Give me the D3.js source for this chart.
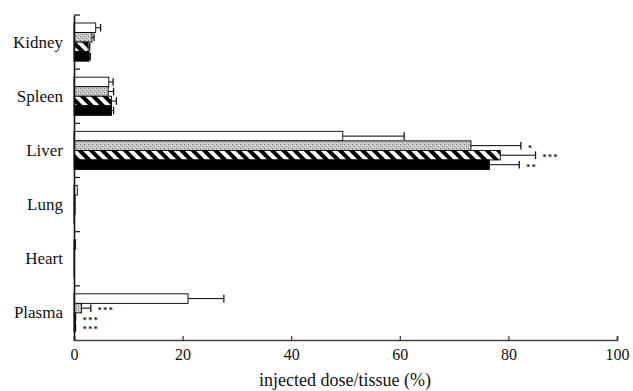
<!DOCTYPE html>
<html><head><meta charset="utf-8">
<script src="https://cdn.jsdelivr.net/npm/d3@7"></script>
<style>body{margin:0;background:#fff}svg{display:block}text{font-family:"Liberation Serif","Times New Roman",serif;fill:#111}</style>
</head><body><svg id="c" width="633" height="391"></svg>
<script>
const categories = ["Kidney","Spleen","Liver","Lung","Heart","Plasma"];
const seriesNames = ["white","gray","hatched","black"];
const whiteVals   = [4.0, 6.4, 49.5, 0.6, 0.3, 21.0];
const whiteErr    = [0.9, 0.8, 11.3, 0, 0, 6.6];
const grayVals    = [3.3, 6.3, 73.1, 0.2, 0.1, 1.4];
const grayErr     = [0.4, 1.0, 9.2, 0, 0, 1.7];
const hatchedVals = [2.6, 6.9, 78.5, 0.2, 0.1, 0.2];
const hatchedErr  = [0.3, 0.9, 6.5, 0, 0, 0.1];
const blackVals   = [2.8, 6.9, 76.5, 0.1, 0.1, 0.2];
const blackErr    = [0.2, 0.4, 5.5, 0, 0, 0.1];
const xTicks = [0,20,40,60,80,100];
const annotations = [
  {cat:"Liver", s:"gray", t:"*"},
  {cat:"Liver", s:"hatched", t:"***"},
  {cat:"Liver", s:"black", t:"**"},
  {cat:"Plasma", s:"gray", t:"***"},
  {cat:"Plasma", s:"hatched", t:"***"},
  {cat:"Plasma", s:"black", t:"***"}
];
const xTitle = "injected dose/tissue (%)";

const vals = {white:whiteVals, gray:grayVals, hatched:hatchedVals, black:blackVals};
const errs = {white:whiteErr, gray:grayErr, hatched:hatchedErr, black:blackErr};

const svg = d3.select("#c");
const defs = svg.append("defs");
const gp = defs.append("pattern").attr("id","gpat").attr("patternUnits","userSpaceOnUse").attr("width",4).attr("height",4);
gp.append("rect").attr("width",4).attr("height",4).attr("fill","#c4c4c4");
gp.append("rect").attr("x",0).attr("y",0).attr("width",1).attr("height",1).attr("fill","#7a7a7a");
gp.append("rect").attr("x",2).attr("y",2).attr("width",1).attr("height",1).attr("fill","#888");
gp.append("rect").attr("x",1).attr("y",3).attr("width",1).attr("height",1).attr("fill","#eee");
gp.append("rect").attr("x",3).attr("y",1).attr("width",1).attr("height",1).attr("fill","#eee");
const hp = defs.append("pattern").attr("id","hpat").attr("patternUnits","userSpaceOnUse").attr("width",8).attr("height",8).attr("patternTransform","rotate(-45)");
hp.append("rect").attr("width",8).attr("height",8).attr("fill","#000");
hp.append("rect").attr("x",0).attr("width",4).attr("height",8).attr("fill","#fff");

const fills = {white:"#fff", gray:"url(#gpat)", hatched:"url(#hpat)", black:"#000"};

const x = d3.scaleLinear().domain([0,100]).range([74,617]);
const y = d3.scaleBand().domain(categories).range([15,340]).padding(0);
const inner = d3.scaleBand().domain(seriesNames).range([8, y.bandwidth()-8]).padding(0);

const data = [];
categories.forEach((c,i)=>seriesNames.forEach(s=>data.push({c,s,v:vals[s][i],e:errs[s][i]})));

const g = svg.append("g");
g.selectAll("rect.bar").data(data).enter().append("rect").attr("class","bar")
  .attr("x",x(0)).attr("y",d=>y(d.c)+inner(d.s))
  .attr("width",d=>x(d.v)-x(0)).attr("height",inner.bandwidth())
  .attr("fill",d=>fills[d.s]).attr("stroke","#000").attr("stroke-width",0.9);

const eb = data.filter(d=>d.e>0);
g.selectAll("line.eh").data(eb).enter().append("line")
  .attr("x1",d=>x(d.v)).attr("x2",d=>x(d.v+d.e))
  .attr("y1",d=>y(d.c)+inner(d.s)+inner.bandwidth()/2).attr("y2",d=>y(d.c)+inner(d.s)+inner.bandwidth()/2)
  .attr("stroke","#000").attr("stroke-width",1);
g.selectAll("line.ec").data(eb).enter().append("line")
  .attr("x1",d=>x(d.v+d.e)).attr("x2",d=>x(d.v+d.e))
  .attr("y1",d=>y(d.c)+inner(d.s)+1).attr("y2",d=>y(d.c)+inner(d.s)+inner.bandwidth()-1)
  .attr("stroke","#000").attr("stroke-width",1.2);

g.selectAll("text.ann").data(annotations).enter().append("text")
  .attr("x",a=>{const i=categories.indexOf(a.cat);return x(vals[a.s][i]+errs[a.s][i])+7;})
  .attr("y",a=>y(a.cat)+inner(a.s)+inner.bandwidth()/2+5)
  .attr("font-size",8).attr("font-weight","bold").attr("letter-spacing",1.5).text(a=>a.t);

const xa = svg.append("g").attr("transform","translate(0,340)")
  .call(d3.axisBottom(x).tickValues(xTicks).tickSize(-4).tickPadding(9).tickFormat(d3.format("d")));
xa.select(".domain").attr("stroke","#444").attr("stroke-width",1.6);
xa.selectAll(".tick line").attr("stroke","#333").attr("stroke-width",1.2);
xa.selectAll(".tick text").attr("font-size",16).attr("font-family","Liberation Serif").attr("fill","#111");

const ya = svg.append("g").attr("transform","translate(74,0)")
  .call(d3.axisLeft(y).tickSize(0).tickPadding(11));
ya.select(".domain").attr("stroke","#111").attr("stroke-width",1.6);
ya.selectAll(".tick text").attr("font-size",17).attr("font-family","Liberation Serif").attr("fill","#111");
const bounds = categories.map(c=>y(c));
svg.append("g").selectAll("line").data(bounds).enter().append("line")
  .attr("x1",74).attr("x2",80).attr("y1",d=>d).attr("y2",d=>d)
  .attr("stroke","#111").attr("stroke-width",1.2);

svg.append("text").attr("x",345).attr("y",386).attr("text-anchor","middle")
  .attr("font-size",18).text(xTitle);
</script></body></html>
